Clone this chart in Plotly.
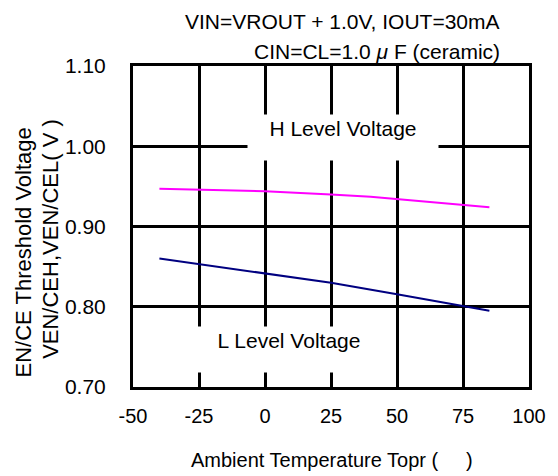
import plotly.graph_objects as go

# Ambient temperature (deg C) and threshold voltages
temp_h = [-40, -25, 0, 25, 40, 85]
ven_h = [0.947, 0.946, 0.944, 0.940, 0.937, 0.924]

temp_l = [-40, -25, 0, 25, 50, 75, 85]
ven_l = [0.860, 0.853, 0.842, 0.830, 0.8155, 0.801, 0.795]

x_ticks = [-50, -25, 0, 25, 50, 75, 100]
y_ticks = [0.70, 0.80, 0.90, 1.00, 1.10]

FONT = "Liberation Sans, Arial, sans-serif"
FS = 21

# the page body adds an 8px margin, so the figure is drawn 8px smaller
W, H = 550, 468
# plot area in figure pixels
L, R, T, B = 125, 530, 58, 379


def px_x(p):
    return (p - L) / (R - L)


def px_y(p):
    return (B - p) / (B - T)


fig = go.Figure()

fig.add_trace(
    go.Scatter(
        x=temp_h, y=ven_h, mode="lines",
        line=dict(color="#FF00FF", width=2), showlegend=False,
    )
)
fig.add_trace(
    go.Scatter(
        x=temp_l, y=ven_l, mode="lines",
        line=dict(color="#000080", width=2), showlegend=False,
    )
)

annotations = [
    # level labels with white boxes covering the grid
    dict(
        x=29.6, y=1.011, xref="x", yref="y", text="H Level Voltage",
        showarrow=False, bgcolor="white", width=186, height=41,
        valign="top", borderpad=2, font=dict(size=FS, color="black"),
    ),
    dict(
        x=9.1, y=0.7467, xref="x", yref="y", text="L Level Voltage",
        showarrow=False, bgcolor="white", width=186, height=41,
        valign="top", borderpad=2, font=dict(size=FS, color="black"),
    ),
    # conditions at top right
    dict(
        x=px_x(502), y=px_y(14), xref="paper", yref="paper",
        xanchor="right", yanchor="middle",
        text="VIN=VROUT + 1.0V, IOUT=30mA", showarrow=False,
        font=dict(size=FS, color="black"),
    ),
    dict(
        x=px_x(502), y=px_y(43), xref="paper", yref="paper",
        xanchor="right", yanchor="middle",
        text="CIN=CL=1.0 <i>\u03bc</i> F (ceramic)", showarrow=False,
        font=dict(size=FS, color="black"),
    ),
    # axis titles
    dict(
        x=px_x(329), y=px_y(452), xref="paper", yref="paper",
        xanchor="center", yanchor="middle",
        text="Ambient Temperature Topr (\u00a0\u00a0\u00a0\u00a0\u00a0)",
        showarrow=False, font=dict(size=20, color="black"),
    ),
    dict(
        x=px_x(13), y=px_y(244), xref="paper", yref="paper",
        xanchor="center", yanchor="middle", textangle=-90,
        text="EN/CE Threshold Voltage", showarrow=False,
        font=dict(size=22, color="black"),
    ),
    dict(
        x=px_x(41), y=px_y(231), xref="paper", yref="paper",
        xanchor="center", yanchor="middle", textangle=-90,
        text="VEN/CEH,VEN/CEL( V )", showarrow=False,
        font=dict(size=22, color="black"),
    ),
]

fig.update_layout(
    width=W,
    height=H,
    margin=dict(l=L, r=W - R, t=T, b=H - B),
    plot_bgcolor="white",
    paper_bgcolor="white",
    font=dict(family=FONT, size=FS, color="black"),
    showlegend=False,
    annotations=annotations,
    xaxis=dict(
        range=[-50, 100],
        tickvals=x_ticks,
        ticktext=[str(v) for v in x_ticks],
        showgrid=True,
        gridcolor="black",
        gridwidth=2.5,
        zeroline=False,
        showline=True,
        linecolor="black",
        linewidth=3,
        mirror=True,
        ticks="",
        ticklabelstandoff=9,
        tickfont=dict(size=20),
    ),
    yaxis=dict(
        range=[0.70, 1.10],
        tickvals=y_ticks,
        ticktext=[f"{v:.2f}" for v in y_ticks],
        showgrid=True,
        gridcolor="black",
        gridwidth=2.5,
        zeroline=False,
        showline=True,
        linecolor="black",
        linewidth=3,
        mirror=True,
        ticks="",
        ticklabelstandoff=20,
        tickfont=dict(size=FS),
    ),
)

fig.write_html("out.html")
